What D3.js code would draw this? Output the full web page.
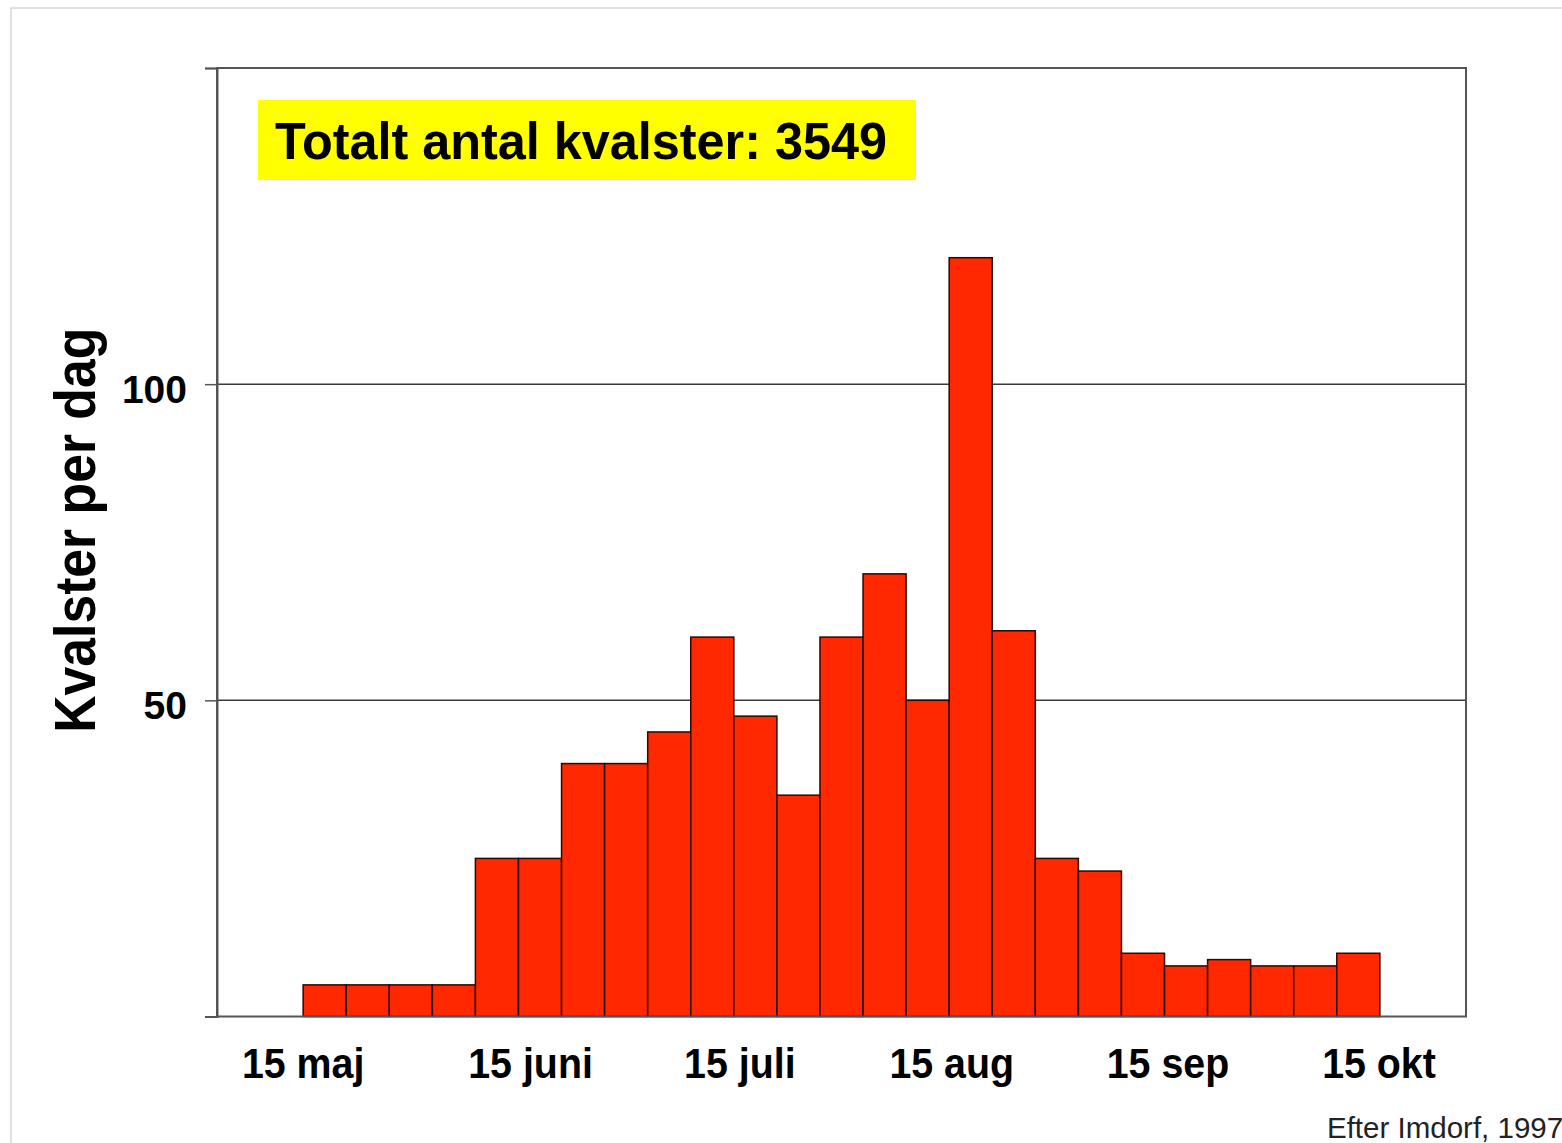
<!DOCTYPE html>
<html>
<head>
<meta charset="utf-8">
<script src="https://cdn.jsdelivr.net/npm/d3@7"></script>
<style>
  body { margin: 0; background: #fff; }
  text { font-family: "Liberation Sans", Arial, Helvetica, sans-serif; }
</style>
</head>
<body>
<div id="chart"></div>
<script>
// data: mites per day, one bar per period
let values = [5, 5, 5, 5, 25, 25, 40, 40, 45, 60, 47.5, 35, 60, 70, 50, 120, 61, 25, 23, 10, 8, 9, 8, 8, 10];
// the plot holds 29 equal slots, the bars start in slot 2
let slotCount = 29;
let firstSlot = 2;
// month labels and where they sit, in slot units
let monthLabels = ["15 maj", "15 juni", "15 juli", "15 aug", "15 sep", "15 okt"];
let monthSlots = [2, 7.28, 12.14, 17.06, 22.08, 26.98];
let yTicks = [0, 50, 100, 150];
let yGrid = [50, 100];
let yLabels = [50, 100];
let yMax = 150;
let title = "Totalt antal kvalster: 3549";
let yTitle = "Kvalster per dag";
let source = "Efter Imdorf, 1997";

let width = 1562, height = 1143;
let plot = { left: 217, right: 1466, top: 68, bottom: 1016.5 };

let svg = d3.select("#chart")
    .append("svg")
    .attr("width", width)
    .attr("height", height);

svg.append("rect")
    .attr("width", width)
    .attr("height", height)
    .attr("fill", "#fff");

// faint slide frame, runs off the right and bottom edges
svg.append("rect")
    .attr("x", 11)
    .attr("y", 8)
    .attr("width", 1700)
    .attr("height", 1300)
    .attr("fill", "none")
    .attr("stroke", "#d6d6d6")
    .attr("stroke-width", 1.5);

let x = d3.scaleLinear()
    .domain([0, slotCount])
    .range([plot.left, plot.right]);

let xBand = d3.scaleBand()
    .domain(d3.range(slotCount))
    .range([plot.left, plot.right])
    .padding(0);

let y = d3.scaleLinear()
    .domain([0, yMax])
    .range([plot.bottom, plot.top]);

// gridlines
svg.append("g")
    .selectAll("line")
    .data(yGrid)
    .enter()
    .append("line")
    .attr("x1", plot.left)
    .attr("x2", plot.right)
    .attr("y1", d => y(d))
    .attr("y2", d => y(d))
    .attr("stroke", "#3a3a3a")
    .attr("stroke-width", 1.5);

// bars
svg.append("g")
    .selectAll("rect")
    .data(values)
    .enter()
    .append("rect")
    .attr("x", (d, i) => xBand(firstSlot + i))
    .attr("width", xBand.bandwidth())
    .attr("y", d => y(d))
    .attr("height", d => y(0) - y(d))
    .attr("fill", "#ff2800")
    .attr("stroke", "#2b0800")
    .attr("stroke-width", 1.5);

// plot frame
svg.append("rect")
    .attr("x", plot.left)
    .attr("y", plot.top)
    .attr("width", plot.right - plot.left)
    .attr("height", plot.bottom - plot.top)
    .attr("fill", "none")
    .attr("stroke", "#555")
    .attr("stroke-width", 2);

// left axis: ticks on every 50, labels only on 50 and 100
let yAxis = svg.append("g")
    .attr("transform", `translate(${plot.left},0)`)
    .call(d3.axisLeft(y)
        .tickValues(yTicks)
        .tickSize(12)
        .tickPadding(18)
        .tickFormat(d => yLabels.includes(d) ? d : ""));
yAxis.select(".domain").attr("stroke", "#555").attr("stroke-width", 2);
yAxis.selectAll(".tick line").attr("stroke", "#555").attr("stroke-width", 1.5);
yAxis.selectAll(".tick text")
    .attr("dy", "0.47em")
    .style("font-size", "39px")
    .style("font-weight", "bold")
    .attr("fill", "#000")
    .style("font-family", "'Liberation Sans', Arial, sans-serif");

// month labels under the plot
let xLabels = svg.append("g")
    .selectAll("text")
    .data(monthLabels)
    .enter()
    .append("text")
    .attr("x", (d, i) => x(monthSlots[i]))
    .attr("y", 1078)
    .style("text-anchor", "middle")
    .style("font-size", "43px")
    .style("font-weight", "bold")
    .text(d => d);
// the original lettering is a bit narrower than Arial
xLabels.each(function() {
    let len = this.getComputedTextLength();
    d3.select(this).attr("textLength", len * 0.915).attr("lengthAdjust", "spacingAndGlyphs");
});

// y axis title
svg.append("text")
    .attr("transform", `translate(95, ${(plot.top + plot.bottom) / 2 - 12}) rotate(-90)`)
    .style("text-anchor", "middle")
    .style("font-size", "57px")
    .style("font-weight", "bold")
    .attr("textLength", 405)
    .attr("lengthAdjust", "spacingAndGlyphs")
    .text(yTitle);

// yellow total box
svg.append("rect")
    .attr("x", 258)
    .attr("y", 100)
    .attr("width", 658)
    .attr("height", 80)
    .attr("fill", "#ffff00");

svg.append("text")
    .attr("x", 275)
    .attr("y", 159)
    .style("font-size", "52px")
    .style("font-weight", "bold")
    .attr("textLength", 612)
    .attr("lengthAdjust", "spacingAndGlyphs")
    .text(title);

// source note in the bottom right corner
svg.append("text")
    .attr("x", 1327)
    .attr("y", 1138)
    .style("font-size", "29.5px")
    .attr("fill", "#222")
    .text(source);
</script>
</body>
</html>
